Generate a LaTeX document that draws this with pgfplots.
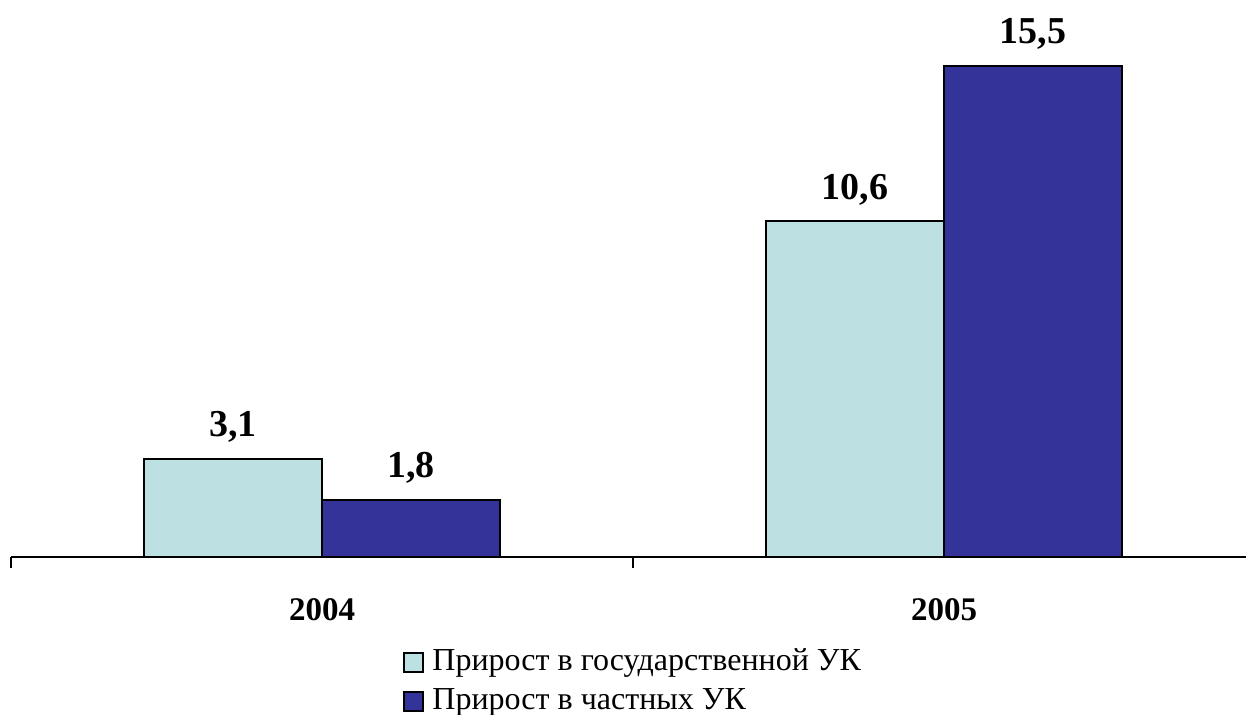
\documentclass[border=0pt]{standalone}
\usepackage{pgfplots}
\pgfplotsset{compat=1.18}
\usepackage{fontspec}
\setmainfont{Liberation Serif}
\definecolor{lightc}{RGB}{189,224,226}
\definecolor{darkc}{RGB}{51,51,153}
\begin{document}
\begin{tikzpicture}
\begin{axis}[
  at={(0,0)}, anchor=south west,
  scale only axis,
  width=622pt, height=269.3pt,
  xmin=-0.5, xmax=1.5, ymin=0, ymax=17,
  ybar=0pt, bar width=89pt,
  axis x line*=bottom, axis y line=none,
  x axis line style={line width=1pt, black},
  xtick={0,1}, xticklabels={2004,2005},
  major x tick style={draw=none},
  minor xtick={-0.5,0.5,1.5},
  minor tick length=5.5pt,
  minor x tick style={line width=1pt, black},
  tick align=outside,
  ytick=\empty,
  xticklabel style={font=\bfseries\fontsize{16.5}{16.5}\selectfont, anchor=base, yshift=-27.5pt},
  clip=false,
  /pgf/number format/.cd, use comma, fixed, fixed zerofill, precision=1, assume math mode=true,
  /pgfplots/.cd,
  nodes near coords,
  every node near coord/.append style={font=\bfseries\fontsize{19}{19}\selectfont, anchor=base, yshift=11pt, inner sep=0pt},
  legend style={at={(0.3155,-0.160)}, anchor=north west, draw=none, fill=none, inner sep=0pt, outer sep=0pt,
    font=\fontsize{16}{16}\selectfont, row sep=0pt,
    nodes={text height=13.5pt, text depth=6pt, inner sep=0pt}},
  legend cell align=left,
  legend image code/.code={\draw[#1] (0pt,-4.75pt) rectangle (9.5pt,4.75pt);},
]
\addplot[fill=lightc, draw=black, line width=1pt] coordinates {(0,3.1) (1,10.6)};
\addplot[fill=darkc, draw=black, line width=1pt] coordinates {(0,1.8) (1,15.5)};
\legend{\hspace{4pt}Прирост в государственной УК, \hspace{4pt}Прирост в частных УК}
\end{axis}
\pgfresetboundingbox
\path[use as bounding box] (-5.5pt,-79pt) rectangle (617.5pt,278.5pt);
\end{tikzpicture}
\end{document}
